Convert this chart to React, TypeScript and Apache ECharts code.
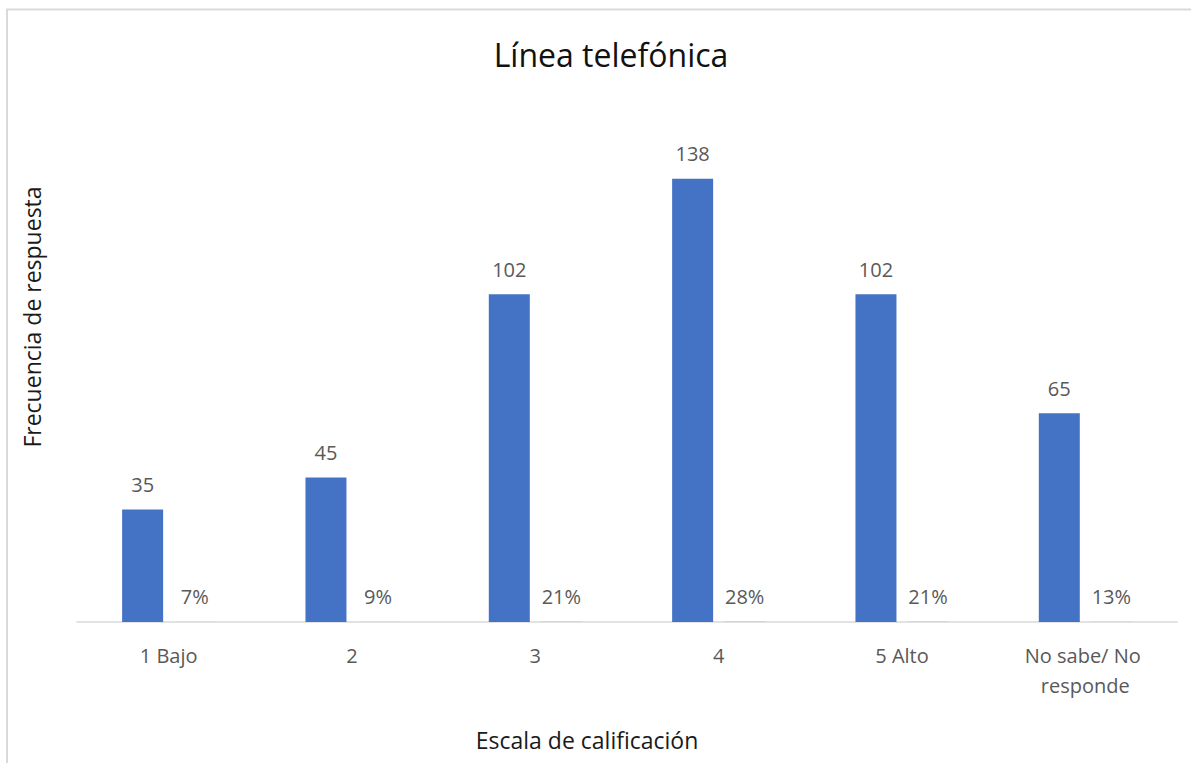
import React, { useEffect, useRef } from "react";
import * as echarts from "echarts";

const categories = ["1 Bajo", "2", "3", "4", "5 Alto", "No sabe/ No responde"];
const frecuencia = [35, 45, 102, 138, 102, 65];
const porcentaje = [0.07, 0.09, 0.21, 0.28, 0.21, 0.13];
const titleText = "Línea telefónica";
const yTitle = "Frecuencia de respuesta";
const xTitle = "Escala de calificación";

const FONT = "'Open Sans', 'Noto Sans', sans-serif";

export default function App() {
  const ref = useRef<HTMLDivElement>(null);
  useEffect(() => {
    if (!ref.current) return;
    const chart = echarts.init(ref.current, null, { renderer: "svg" });
    chart.setOption({
      animation: false,
      backgroundColor: "#ffffff",
      title: {
        text: titleText,
        left: 606,
        textAlign: "center",
        top: 33,
        textStyle: { fontFamily: FONT, fontSize: 32, fontWeight: "normal", color: "#111111" },
      },
      graphic: [
        {
          type: "rect",
          shape: { x: 7, y: 9.5, width: 1250, height: 800 },
          style: { fill: "none", stroke: "#d9d9d9", lineWidth: 2 },
          silent: true,
        },
        {
          type: "text",
          x: 32,
          y: 317,
          rotation: Math.PI / 2,
          style: {
            text: yTitle,
            fontFamily: FONT,
            fontSize: 23,
            fill: "#1a1a1a",
            align: "center",
            verticalAlign: "middle",
          },
        },
        {
          type: "text",
          x: 587,
          y: 740,
          style: {
            text: xTitle,
            fontFamily: FONT,
            fontSize: 23,
            fill: "#1a1a1a",
            align: "center",
            verticalAlign: "middle",
          },
        },
      ],
      grid: { left: 77, right: 14, top: 108, bottom: 141, containLabel: false },
      xAxis: {
        type: "category",
        data: categories,
        axisLine: { show: true, lineStyle: { color: "#d9d9d9", width: 1.5 } },
        axisTick: { show: false },
        axisLabel: {
          interval: 0,
          fontFamily: FONT,
          fontSize: 20,
          color: "#595959",
          margin: 18,
          lineHeight: 30,
          width: 145,
          overflow: "break",
        },
      },
      yAxis: {
        type: "value",
        min: 0,
        max: 160,
        show: false,
        splitLine: { show: false },
      },
      series: [
        {
          name: "Frecuencia",
          type: "bar",
          data: frecuencia,
          barWidth: 41,
          barGap: "27%",
          itemStyle: { color: "#4472C4" },
          label: {
            show: true,
            position: "top",
            distance: 15,
            fontFamily: FONT,
            fontSize: 20,
            color: "#595959",
          },
        },
        {
          name: "Porcentaje",
          type: "bar",
          data: porcentaje,
          barWidth: 41,
          barGap: "27%",
          itemStyle: { color: "#F4C9AE" },
          label: {
            show: true,
            position: "top",
            distance: 15,
            fontFamily: FONT,
            fontSize: 20,
            color: "#595959",
            formatter: (p: any) => Math.round(p.value * 100) + "%",
          },
        },
      ],
    });
    return () => chart.dispose();
  }, []);
  return (
    <div
      ref={ref}
      style={{ position: "fixed", left: 0, top: 0, width: 1191, height: 763 }}
    />
  );
}
